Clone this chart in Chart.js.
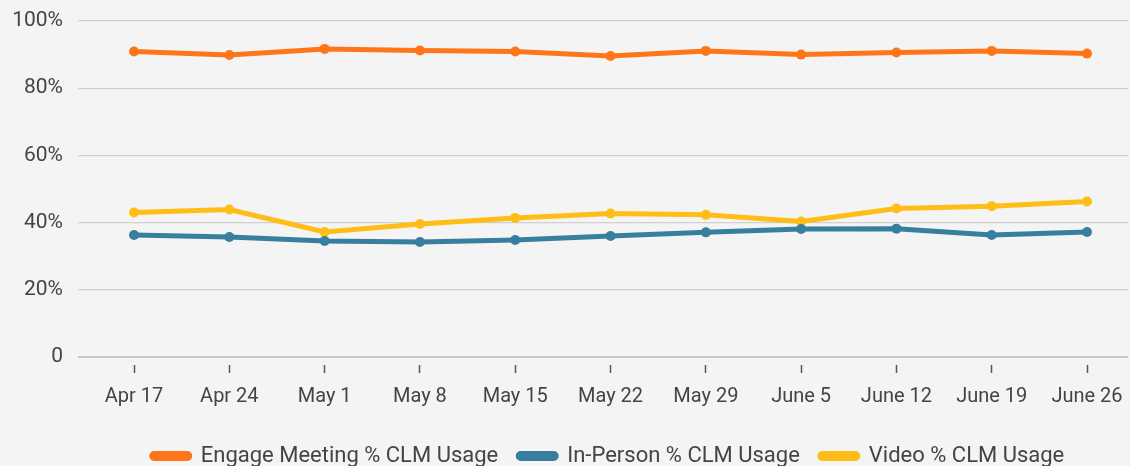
<!DOCTYPE html>
<html>
<head>
<meta charset="utf-8">
<script src="https://cdn.jsdelivr.net/npm/chart.js@4/dist/chart.umd.min.js"></script>
<style>
html,body{margin:0;padding:0;background:#f4f4f4;}
#wrap{width:1130px;height:466px;position:relative;}
</style>
</head>
<body>
<div id="wrap"><canvas id="c" width="1130" height="466"></canvas></div>
<script>
const categories = ["Apr 17","Apr 24","May 1","May 8","May 15","May 22","May 29","June 5","June 12","June 19","June 26"];
const engageMeeting = [90.9, 89.9, 91.7, 91.2, 90.9, 89.6, 91.1, 90.0, 90.6, 91.1, 90.3];
const inPerson = [36.3, 35.7, 34.5, 34.2, 34.8, 36.0, 37.1, 38.1, 38.2, 36.3, 37.2];
const video = [43.0, 43.9, 37.2, 39.6, 41.4, 42.7, 42.3, 40.3, 44.2, 44.9, 46.3];
const yTicks = [0, 20, 40, 60, 80, 100];

const toPts = arr => arr.map((v, i) => ({x: i, y: v}));
const mk = (label, arr, color) => ({
  label, data: toPts(arr), borderColor: color, backgroundColor: color,
  borderWidth: 5, pointRadius: 5, pointHoverRadius: 5, pointBackgroundColor: color,
  pointBorderWidth: 0, tension: 0
});

const bgPlugin = {
  id: 'bg',
  beforeDraw(chart) {
    const ctx = chart.ctx;
    ctx.save();
    ctx.fillStyle = '#f4f4f4';
    ctx.fillRect(0, 0, chart.width, chart.height);
    ctx.restore();
  },
  afterLayout(chart) {
    // center legend under the plot area rather than the whole canvas
    if (chart.legend) chart.legend.left = chart.chartArea.left + 10;
  }
};

new Chart(document.getElementById('c'), {
  type: 'line',
  data: {
    datasets: [
      mk('Engage Meeting % CLM Usage', engageMeeting, '#ff7519'),
      mk('In-Person % CLM Usage', inPerson, '#377e9f'),
      mk('Video % CLM Usage', video, '#ffbd18')
    ]
  },
  options: {
    responsive: false,
    animation: false,
    layout: {autoPadding: false, padding: {top: 21, right: 2, left: 0, bottom: -11}},
    plugins: {
      tooltip: {enabled: false},
      legend: {
        position: 'bottom',
        labels: {
          font: {family: 'Roboto', size: 22},
          color: '#444',
          boxWidth: 38,
          boxHeight: 5,
          useBorderRadius: true,
          borderRadius: 2.5,
          padding: 20
        }
      }
    },
    scales: {
      x: {
        type: 'linear',
        min: -0.588,
        max: 10.43,
        afterBuildTicks(scale) {
          scale.ticks = categories.map((c, i) => ({value: i}));
        },
        ticks: {
          callback: (v) => categories[v],
          font: {family: 'Roboto', size: 20},
          color: '#444',
          padding: 12,
          maxRotation: 0,
          autoSkip: false
        },
        grid: {
          drawOnChartArea: false,
          drawTicks: true,
          tickLength: 16,
          tickColor: '#555',
          tickWidth: 1.5,
          tickBorderDash: [8, 8],
          tickBorderDashOffset: 8
        },
        border: {display: false},
        afterFit(scale) { scale.height = 68; scale.paddingLeft = 0; scale.paddingRight = 0; }
      },
      y: {
        min: 0,
        max: 100,
        afterBuildTicks(scale) {
          scale.ticks = yTicks.map(v => ({value: v}));
        },
        ticks: {
          callback: (v) => v === 0 ? '0' : v + '%',
          font: {family: 'Roboto', size: 21},
          color: '#444',
          padding: 15
        },
        grid: {
          color: (ctx) => ctx.tick && ctx.tick.value === 0 ? '#c8c8c8' : '#d0d0d0',
          lineWidth: (ctx) => ctx.tick && ctx.tick.value === 0 ? 2 : 1.3,
          drawTicks: false
        },
        border: {display: false},
        afterFit(scale) { scale.width = 78; scale.paddingTop = 0; scale.paddingBottom = 0; }
      }
    }
  },
  plugins: [bgPlugin]
});
</script>
</body>
</html>
